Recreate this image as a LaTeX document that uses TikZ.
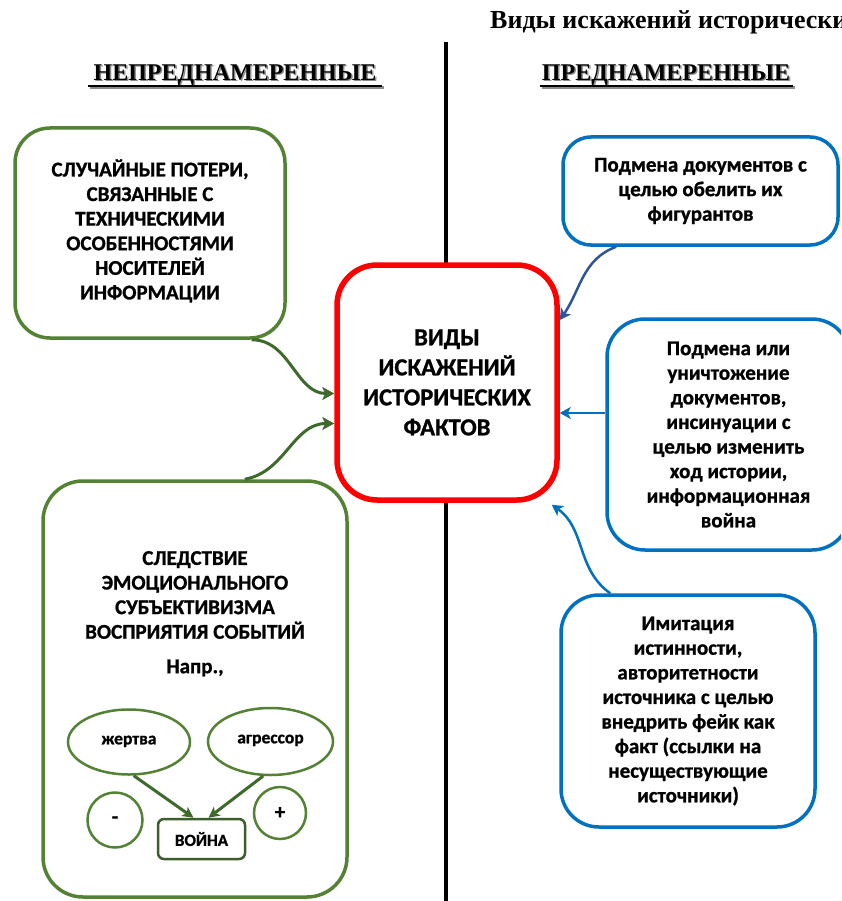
\documentclass[tikz,border=0pt]{standalone}
\usepackage{fontspec}
\setmainfont{Carlito}[BoldFeatures={FakeBold=1}]
\newfontfamily\serifbold{Liberation Serif}
\usetikzlibrary{shapes.geometric,arrows.meta}
\definecolor{gboxc}{HTML}{548235}
\definecolor{garrc}{HTML}{3E6A2B}
\definecolor{gdark}{HTML}{3B5E2B}
\definecolor{bboxc}{HTML}{0070C0}
\definecolor{bdark}{HTML}{2F5597}
\definecolor{redc}{HTML}{FF0000}
\newcommand{\boxfont}{\bfseries\fontsize{21}{24.6}\selectfont}
\begin{document}
\begin{tikzpicture}[x=1pt,y=-1pt,
  gbox/.style={draw=gboxc, line width=3.5pt, rounded corners=35pt, fill=white, align=center, font=\boxfont, inner sep=0pt},
  bbox/.style={draw=bboxc, line width=3.5pt, rounded corners=28pt, fill=white, align=center, font=\boxfont, inner sep=0pt},
  rbox/.style={draw=redc, line width=5.5pt, rounded corners=40pt, fill=white, align=center, font=\bfseries\fontsize{24.5}{30}\selectfont, inner sep=0pt},
  header/.style={font=\serifbold\bfseries\fontsize{24}{28}\selectfont, inner sep=0pt},
  gconn/.style={draw=garrc, line width=3pt, -{Stealth[length=12pt,width=13pt,inset=3pt]}},
  bconn/.style={draw=bboxc, line width=2.5pt, -{Stealth[length=11pt,width=12pt,inset=3pt]}},
  bdconn/.style={draw=bdark, line width=2.5pt, -{Stealth[length=11pt,width=12pt,inset=3pt]}},
  oval/.style={ellipse, draw=gboxc, line width=2.5pt, inner sep=0pt, font=\bfseries\fontsize{17.5}{19}\selectfont},
  rounddot/.style={circle, draw=gboxc, line width=2.5pt, inner sep=0pt, font=\bfseries\fontsize{21}{22}\selectfont},
  warbox/.style={draw=gdark, line width=2.5pt, rounded corners=6pt, inner sep=0pt, font=\bfseries\fontsize{17}{19}\selectfont},
  iconn/.style={draw=garrc, line width=3pt, -{Stealth[length=11pt,width=11pt,inset=3pt]}}
]
\useasboundingbox (0,0) rectangle (841,901);
\begin{scope}
\clip (0,0) rectangle (841,901);

% title (cut at the right edge, as in the reference)
\node[anchor=west, font=\serifbold\bfseries\fontsize{26}{30}\selectfont, inner sep=0pt] (title) at (490,22) {Виды искажений исторически};

% headers with shadow
\node[header, text=black!45] (h1s) at (236.5,76.5) {НЕПРЕДНАМЕРЕННЫЕ};
\node[header] (h1) at (235,75) {НЕПРЕДНАМЕРЕННЫЕ};
\draw[black!45, line width=2.5pt] (89.5,87.5) -- (383.5,87.5);
\draw[black, line width=2.5pt] (88,86) -- (382,86);
\node[header, text=black!45] (h2s) at (667.5,76.5) {ПРЕДНАМЕРЕННЫЕ};
\node[header] (h2) at (666,75) {ПРЕДНАМЕРЕННЫЕ};
\draw[black!45, line width=2.5pt] (541.5,87.5) -- (794.5,87.5);
\draw[black, line width=2.5pt] (540,86) -- (793,86);

% divider
\coordinate (ltop) at (446,42);
\coordinate (lbot) at (446,901);
\draw[black, line width=4pt] (ltop) -- (lbot);

% boxes
\node[gbox, minimum width=270pt, minimum height=210pt] (g1) at (150,233)
  {\raisebox{6pt}{\begin{tabular}{@{}c@{}}СЛУЧАЙНЫЕ ПОТЕРИ,\\СВЯЗАННЫЕ С\\ТЕХНИЧЕСКИМИ\\ОСОБЕННОСТЯМИ\\НОСИТЕЛЕЙ\\ИНФОРМАЦИИ\end{tabular}}};
\node[rbox, minimum width=220pt, minimum height=235pt] (red) at (447,382.5)
  {ВИДЫ\\ИСКАЖЕНИЙ\\ИСТОРИЧЕСКИХ\\ФАКТОВ};
\node[bbox, minimum width=275pt, minimum height=108pt] (b1) at (700.5,191)
  {Подмена документов с\\целью обелить их\\фигурантов};
\node[bbox, rounded corners=38pt, minimum width=243pt, minimum height=231pt] (b2) at (728.5,434.5)
  {Подмена или\\уничтожение\\документов,\\инсинуации с\\целью изменить\\ход истории,\\информационная\\война};
\node[bbox, rounded corners=38pt, minimum width=254pt, minimum height=232pt] (b3) at (688,711)
  {Имитация\\истинности,\\авторитетности\\источника с целью\\внедрить фейк как\\факт (ссылки на\\несуществующие\\источники)};
\node[gbox, rounded corners=40pt, minimum width=304pt, minimum height=416pt] (g2) at (195,689) {};
\node[align=center, font=\boxfont, inner sep=0pt] (g2t) at (195,595)
  {СЛЕДСТВИЕ\\ЭМОЦИОНАЛЬНОГО\\СУБЪЕКТИВИЗМА\\ВОСПРИЯТИЯ СОБЫТИЙ};
\node[font=\boxfont, inner sep=0pt] (napr) at (195,668) {Напр.,};

% inner diagram
\node[oval, minimum width=122pt, minimum height=65pt] (jer) at (129,742) {\raisebox{4pt}{жертва}};
\node[oval, minimum width=125pt, minimum height=67pt] (agr) at (270.5,741.5) {\raisebox{5pt}{агрессор}};
\node[rounddot, minimum size=55pt] (minus) at (115,820) {-};
\node[rounddot, minimum size=52pt] (plus) at (280,813) {+};
\node[warbox, minimum width=87pt, minimum height=40pt] (war) at (201.5,839) {ВОЙНА};
\draw[iconn] (jer.-82) -- ([xshift=-8pt]war.north);
\draw[iconn] (agr.-102) -- ([xshift=7pt]war.north);

% connectors
\draw[gconn] ([xshift=-35pt]g1.south east) to[out=0,in=180] ([yshift=-11pt]red.west);
\draw[gconn] ([xshift=-104pt]g2.north east) to[out=10,in=180] ([yshift=-41pt]red.west);
\draw[bdconn] ([xshift=55pt]b1.south west) to[out=200,in=55] ([yshift=62.5pt]red.east);
\draw[bconn] ([yshift=21.5pt]b2.west) -- ([yshift=-30.5pt]red.east);
\draw[bconn] ([xshift=51pt]b3.north west) to[out=145,in=-35] ([xshift=-8pt,yshift=-2pt]red.south east);
\end{scope}
\end{tikzpicture}
\end{document}
